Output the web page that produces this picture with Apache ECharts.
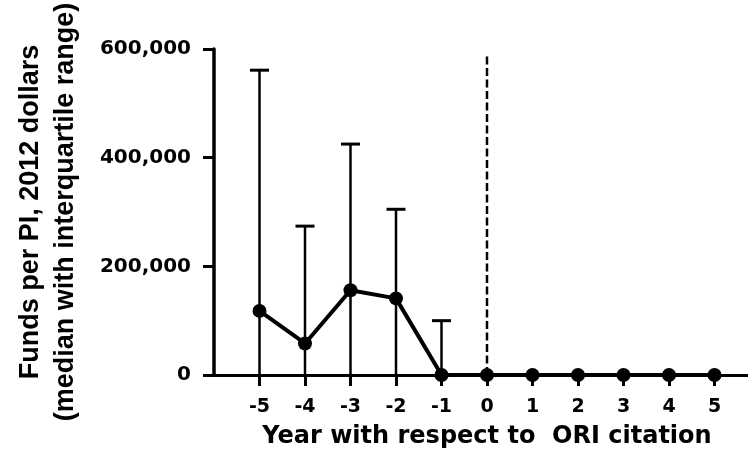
<!DOCTYPE html>
<html>
<head>
<meta charset="utf-8">
<title>Funds per PI around ORI citation</title>
<script src="https://cdn.jsdelivr.net/npm/echarts@6/dist/echarts.min.js"></script>
<style>
  html, body { margin: 0; padding: 0; background: #fff; }
  #chart { width: 748px; height: 452px; }
</style>
</head>
<body>
<div id="chart"></div>
<script>
// Year relative to the ORI citation (year 0)
const years = [-5, -4, -3, -2, -1, 0, 1, 2, 3, 4, 5];
// Median funds per PI (2012 dollars)
const medianFunds = [118000, 58000, 156000, 141000, 0, 0, 0, 0, 0, 0, 0];
// Interquartile range: lower and upper quartiles
const lowerQuartile = [0, 0, 0, 0, 0, 0, 0, 0, 0, 0, 0];
const upperQuartile = [561000, 274000, 425000, 305000, 100000, 0, 0, 0, 0, 0, 0];
// Y axis tick values
const yTicks = [0, 200000, 400000, 600000];
// Citation year marker (dashed reference line)
const citationYear = 0;
const citationLineTop = 590000;

const boldSans = 'Liberation Sans, Arial, Helvetica, sans-serif';
const wideBold = 'DejaVu Sans, Verdana, sans-serif';

const chart = echarts.init(document.getElementById('chart'), null, { renderer: 'canvas' });

const medianPoints = years.map((y, i) => [y, medianFunds[i]]);
const iqrData = years.map((y, i) => [y, lowerQuartile[i], upperQuartile[i]]);

function renderWhisker(params, api) {
  const x = api.value(0);
  const lo = api.value(1);
  const hi = api.value(2);
  if (hi <= lo) return null;
  const top = api.coord([x, hi]);
  const bottom = api.coord([x, lo]);
  const half = 9.5;
  return {
    type: 'group',
    children: [
      { type: 'line', shape: { x1: top[0], y1: top[1], x2: bottom[0], y2: bottom[1] },
        style: { stroke: '#000', lineWidth: 2.5 } },
      { type: 'line', shape: { x1: top[0] - half, y1: top[1], x2: top[0] + half, y2: top[1] },
        style: { stroke: '#000', lineWidth: 3 } }
    ]
  };
}

chart.setOption({
  animation: false,
  backgroundColor: '#ffffff',
  // the x axis runs from -6 to 6; its right end lies past the canvas edge
  grid: { left: 214, width: 546, top: 49, bottom: 77, containLabel: false, outerBoundsMode: 'none' },
  xAxis: {
    type: 'value',
    min: -6,
    max: 6,
    interval: 1,
    name: 'Year with respect to  ORI citation',
    nameLocation: 'middle',
    nameGap: 50,
    nameTextStyle: { fontFamily: wideBold, fontWeight: 'bold', fontSize: 24, lineHeight: 24, color: '#000' },
    axisLine: { show: true, onZero: false, lineStyle: { color: '#000', width: 3 } },
    axisTick: { show: true, inside: false, length: 11, customValues: years, lineStyle: { color: '#000', width: 3 } },
    axisLabel: { show: true, margin: 23, customValues: years, fontFamily: wideBold, fontWeight: 'bold', fontSize: 19, color: '#000' },
    splitLine: { show: false }
  },
  yAxis: {
    type: 'value',
    min: yTicks[0],
    max: yTicks[yTicks.length - 1],
    interval: yTicks[1] - yTicks[0],
    name: 'Funds per PI, 2012 dollars\n(median with interquartile range)',
    nameLocation: 'middle',
    nameRotate: 90,
    nameGap: 131,
    nameTextStyle: { fontFamily: boldSans, fontWeight: 'bold', fontSize: 27, lineHeight: 35, color: '#000', align: 'center' },
    axisLine: { show: true, onZero: false, lineStyle: { color: '#000', width: 3.5 } },
    axisTick: { show: true, inside: false, length: 11, lineStyle: { color: '#000', width: 3 } },
    axisLabel: {
      margin: 23,
      fontFamily: wideBold, fontWeight: 'bold', fontSize: 20, color: '#000',
      formatter: v => v.toLocaleString('en-US')
    },
    splitLine: { show: false }
  },
  series: [
    {
      name: 'Interquartile range',
      type: 'custom',
      renderItem: renderWhisker,
      data: iqrData,
      encode: { x: 0, y: [1, 2] },
      z: 2,
      silent: true
    },
    {
      name: 'ORI citation',
      type: 'line',
      data: [[citationYear, 0], [citationYear, citationLineTop]],
      symbol: 'none',
      lineStyle: { color: '#000', width: 2.5, type: [8, 3.5] },
      z: 3,
      silent: true
    },
    {
      name: 'Median',
      type: 'line',
      data: medianPoints,
      symbol: 'circle',
      symbolSize: 14,
      itemStyle: { color: '#000' },
      lineStyle: { color: '#000', width: 4 },
      z: 4
    }
  ]
});
</script>
</body>
</html>
